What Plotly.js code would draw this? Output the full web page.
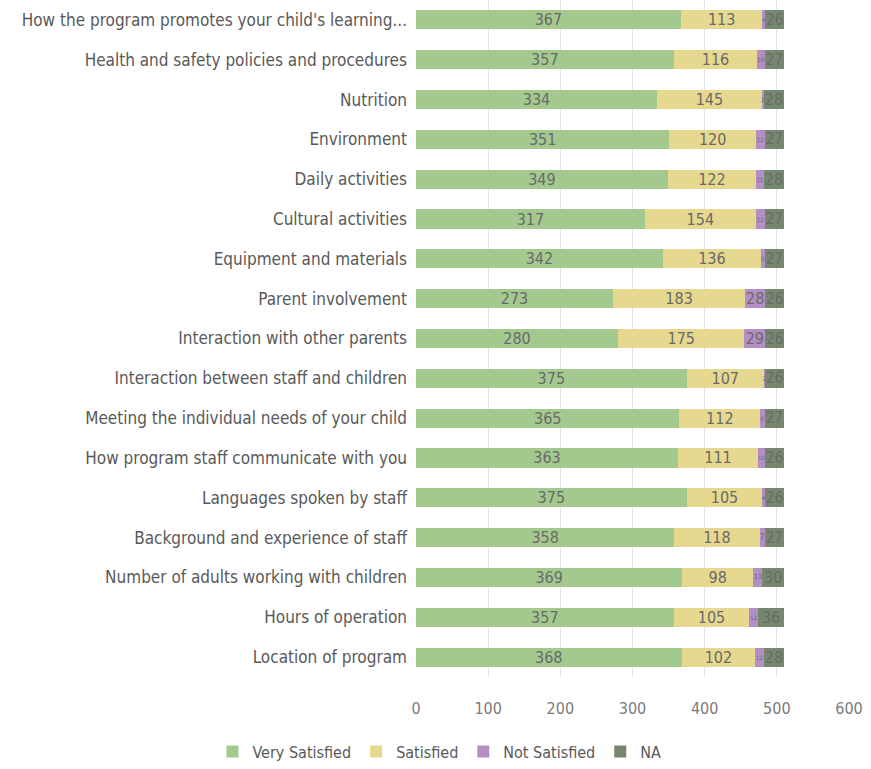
<!DOCTYPE html>
<html>
<head>
<meta charset="utf-8">
<script src="https://cdn.plot.ly/plotly-3.0.1.min.js"></script>
<style>html,body{margin:0;padding:0;background:#fff;}#chart{width:871px;height:769px;}</style>
</head>
<body>
<div id="chart"></div>
<script>
const categories = [
  "How the program promotes your child's learning...",
  "Health and safety policies and procedures",
  "Nutrition",
  "Environment",
  "Daily activities",
  "Cultural activities",
  "Equipment and materials",
  "Parent involvement",
  "Interaction with other parents",
  "Interaction between staff and children",
  "Meeting the individual needs of your child",
  "How program staff communicate with you",
  "Languages spoken by staff",
  "Background and experience of staff",
  "Number of adults working with children",
  "Hours of operation",
  "Location of program"
];
const verySatisfied = [367, 357, 334, 351, 349, 317, 342, 273, 280, 375, 365, 363, 375, 358, 369, 357, 368];
const satisfied     = [113, 116, 145, 120, 122, 154, 136, 183, 175, 107, 112, 111, 105, 118, 98, 105, 102];
const notSatisfied  = [4, 10, 3, 12, 11, 12, 5, 28, 29, 2, 6, 10, 4, 7, 13, 12, 12];
const na            = [26, 27, 28, 27, 28, 27, 27, 26, 26, 26, 27, 26, 26, 27, 30, 36, 28];
const seriesNames = ["Very Satisfied", "Satisfied", "Not Satisfied", "NA"];
const seriesColors = ["#a3c98f", "#e6d88e", "#b48fc6", "#76876f"];
const xTicks = [0, 100, 200, 300, 400, 500, 600];

const FONT = "'DejaVu Sans Condensed', 'Liberation Sans Narrow', 'Roboto', sans-serif";
const PX_PER_UNIT = 433 / 600;
function labelSize(v) {
  const w = v * PX_PER_UNIT;
  const digits = String(v).length;
  return Math.max(6, Math.min(16, Math.floor(w / (0.62 * digits))));
}
const series = [verySatisfied, satisfied, notSatisfied, na];
const traces = series.map((vals, i) => ({
  type: 'bar',
  orientation: 'h',
  name: seriesNames[i],
  y: categories,
  x: vals,
  text: vals.map(String),
  textposition: 'inside',
  insidetextanchor: 'middle',
  textangle: 0,
  constraintext: 'none',
  textfont: {family: FONT, size: vals.map(labelSize), color: '#6a6a6a'},
  marker: {color: seriesColors[i]},
  hoverinfo: 'x+name'
}));

const layout = {
  barmode: 'stack',
  bargap: 0.52,
  width: 871, height: 769,
  margin: {l: 416, r: 22, t: 0, b: 92, autoexpand: false},
  paper_bgcolor: '#ffffff',
  plot_bgcolor: '#ffffff',
  font: {family: FONT, size: 17, color: '#595959'},
  xaxis: {
    range: [0, 600],
    tickvals: xTicks,
    ticktext: xTicks.map(String),
    showgrid: true,
    gridcolor: '#e3e3e3',
    zeroline: false,
    showline: false,
    ticks: '',
    ticklabelstandoff: 20,
    tickfont: {family: FONT, size: 16, color: '#7a7a7a'},
    fixedrange: true
  },
  yaxis: {
    autorange: 'reversed',
    type: 'category',
    showgrid: false,
    zeroline: false,
    showline: false,
    ticks: '',
    ticklabelstandoff: 8,
    tickfont: {family: FONT, size: 17, color: '#595959'},
    fixedrange: true
  },
  legend: {
    orientation: 'h',
    x: -0.47, xanchor: 'left',
    y: -0.085, yanchor: 'top',
    font: {family: FONT, size: 16, color: '#595959'},
    traceorder: 'normal',
    itemwidth: 30
  },
  showlegend: true
};

Plotly.newPlot('chart', traces, layout, {displayModeBar: false, staticPlot: true});
</script>
</body>
</html>
